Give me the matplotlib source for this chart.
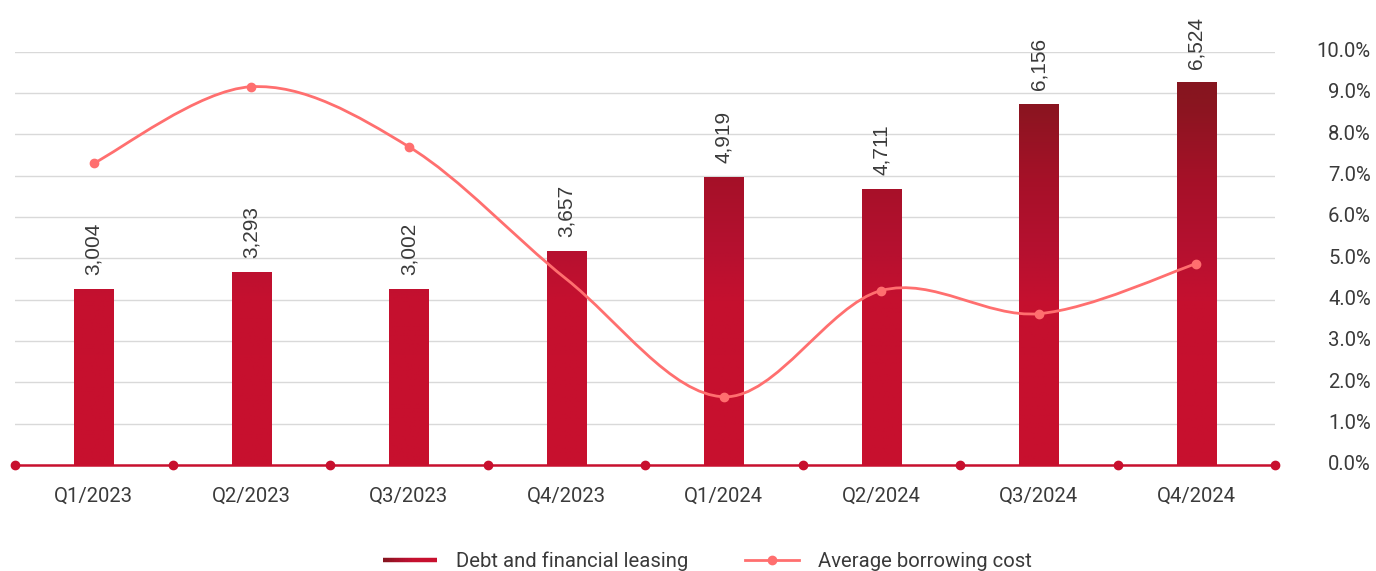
import numpy as np
import matplotlib
matplotlib.use("Agg")
import matplotlib.pyplot as plt
from matplotlib.path import Path
from matplotlib.patches import PathPatch
from matplotlib.colors import LinearSegmentedColormap, Normalize
from matplotlib.lines import Line2D
from matplotlib.legend_handler import HandlerBase
from matplotlib.collections import LineCollection

# ---- data ----
quarters = ["Q1/2023", "Q2/2023", "Q3/2023", "Q4/2023",
            "Q1/2024", "Q2/2024", "Q3/2024", "Q4/2024"]
debt_leasing = [3004, 3293, 3002, 3657, 4919, 4711, 6156, 6524]
borrowing_cost = [7.3, 9.15, 7.7, 4.5, 1.65, 4.22, 3.66, 4.87]
cost_marker_shown = [True, True, True, False, True, True, True, True]
pct_ticks = [0, 1, 2, 3, 4, 5, 6, 7, 8, 9, 10]

# ---- style ----
TICK_FONT = ["Roboto", "DejaVu Sans"]
VALUE_FONT = ["Liberation Sans", "DejaVu Sans"]
TEXT_COLOR = "#3a3a3a"
LINE_COLOR = "#ff6f6f"
AXIS_RED = "#c8102e"
GRID_COLOR = "#d9d9d9"
DEBT_MAX = 7050
LABEL_SIZE = 14.6

# bar fill darkens with height
bar_cmap = LinearSegmentedColormap.from_list(
    "debt", [(0.0, "#c8102e"), (2800 / DEBT_MAX, "#c5102f"),
             (3650 / DEBT_MAX, "#b61030"), (4900 / DEBT_MAX, "#a51128"),
             (6150 / DEBT_MAX, "#8a1520"), (1.0, "#80151f")])

W, H = 1376, 571
fig = plt.figure(figsize=(W / 100, H / 100), dpi=100)
fig.patch.set_facecolor("white")

left_px, right_px, bottom_px, top_px = 15, 1275, 465, 51.6
rect = [left_px / W, 1 - bottom_px / H, (right_px - left_px) / W, (bottom_px - top_px) / H]

# percent axis (grid + right labels), drawn underneath
ax_pct = fig.add_axes(rect)
ax_bar = ax_pct.twinx()    # bars, above the grid
ax_line = ax_pct.twinx()   # borrowing-cost line, on top

n = len(quarters)
for a in (ax_pct, ax_bar, ax_line):
    a.set_xlim(-0.5, n - 0.5)

ax_pct.set_ylim(0, 10)
ax_pct.set_yticks(pct_ticks)
ax_pct.tick_params(axis="y", left=False, right=False, labelleft=False, labelright=False)
for t in pct_ticks:
    ax_pct.annotate(f"{t:.1f}%", xy=(1, t), xycoords=("axes fraction", "data"),
                    xytext=(69, 0), textcoords="offset points", ha="right", va="center",
                    fontsize=LABEL_SIZE, color=TEXT_COLOR, fontfamily=TICK_FONT,
                    annotation_clip=False)
ax_pct.set_xticks(range(n))
ax_pct.set_xticklabels(quarters, fontfamily=TICK_FONT)
ax_pct.tick_params(axis="x", length=0, pad=16, labelsize=LABEL_SIZE, labelcolor=TEXT_COLOR)
ax_pct.grid(axis="y", color=GRID_COLOR, linewidth=1.0)
ax_pct.set_axisbelow(True)
for s in ax_pct.spines.values():
    s.set_visible(False)

ax_bar.set_ylim(0, DEBT_MAX)
ax_bar.axis("off")

x = np.arange(n)
bars = ax_bar.bar(x, debt_leasing, width=0.25, color="none", edgecolor="none")
grad = np.linspace(0, DEBT_MAX, 512).reshape(-1, 1)
for b, v in zip(bars, debt_leasing):
    im = ax_bar.imshow(grad, cmap=bar_cmap, norm=Normalize(0, DEBT_MAX), origin="lower",
                       extent=(b.get_x(), b.get_x() + b.get_width(), 0, DEBT_MAX),
                       aspect="auto", interpolation="bilinear", zorder=2)
    im.set_clip_path(b)
    ax_bar.annotate(f"{v:,}", (b.get_x() + b.get_width() / 2, v), xytext=(0, 10),
                    textcoords="offset points", rotation=90, ha="center", va="bottom",
                    fontsize=15, color=TEXT_COLOR, fontfamily=VALUE_FONT)
ax_bar.set_xlim(-0.5, n - 0.5)
ax_bar.set_ylim(0, DEBT_MAX)

# category baseline with boundary dots
bounds = np.arange(n + 1) - 0.5
ax_bar.plot(bounds, np.zeros_like(bounds), color=AXIS_RED, lw=1.8, marker="o", ms=6,
            clip_on=False, zorder=5)

# smoothed borrowing-cost line
ax_line.set_ylim(0, 10)
ax_line.axis("off")

pts = np.column_stack([x, borrowing_cost]).astype(float)
ext = np.vstack([pts[0], pts, pts[-1]])
verts = [tuple(pts[0])]
codes = [Path.MOVETO]
for i in range(len(pts) - 1):
    p0, p1, p2, p3 = ext[i], ext[i + 1], ext[i + 2], ext[i + 3]
    c1 = p1 + (p2 - p0) / 6.0
    c2 = p2 - (p3 - p1) / 6.0
    verts += [tuple(c1), tuple(c2), tuple(p2)]
    codes += [Path.CURVE4] * 3
ax_line.add_patch(PathPatch(Path(verts, codes), facecolor="none", edgecolor=LINE_COLOR,
                            lw=2.0, zorder=6, capstyle="round"))
mx = [xi for xi, s in zip(x, cost_marker_shown) if s]
my = [yi for yi, s in zip(borrowing_cost, cost_marker_shown) if s]
ax_line.plot(mx, my, linestyle="none", marker="o", ms=6, color=LINE_COLOR, zorder=7)


class GradientLineHandler(HandlerBase):
    def create_artists(self, legend, orig_handle, xdescent, ydescent, width, height,
                       fontsize, trans):
        k = 24
        xs = np.linspace(-xdescent, width - xdescent, k + 1)
        yc = height / 2 - ydescent
        segs = [[(xs[i], yc), (xs[i + 1], yc)] for i in range(k)]
        cols = bar_cmap(np.linspace(0.92, 0.0, k))
        return [LineCollection(segs, colors=cols, linewidths=3.2, transform=trans)]


debt_handle = Line2D([], [], color="#a51128", lw=3.2)
cost_handle = Line2D([], [], color=LINE_COLOR, lw=2.0, marker="o", ms=6)
leg = fig.legend([debt_handle, cost_handle],
                 ["Debt and financial leasing", "Average borrowing cost"],
                 loc="center", bbox_to_anchor=(707 / W, 1 - 561 / H), ncol=2,
                 frameon=False, handlelength=2.7, handletextpad=0.9, columnspacing=2.8,
                 prop={"family": TICK_FONT, "size": LABEL_SIZE},
                 handler_map={debt_handle: GradientLineHandler()})
for t in leg.get_texts():
    t.set_color(TEXT_COLOR)

fig.savefig("out.png", dpi=100, facecolor="white")
